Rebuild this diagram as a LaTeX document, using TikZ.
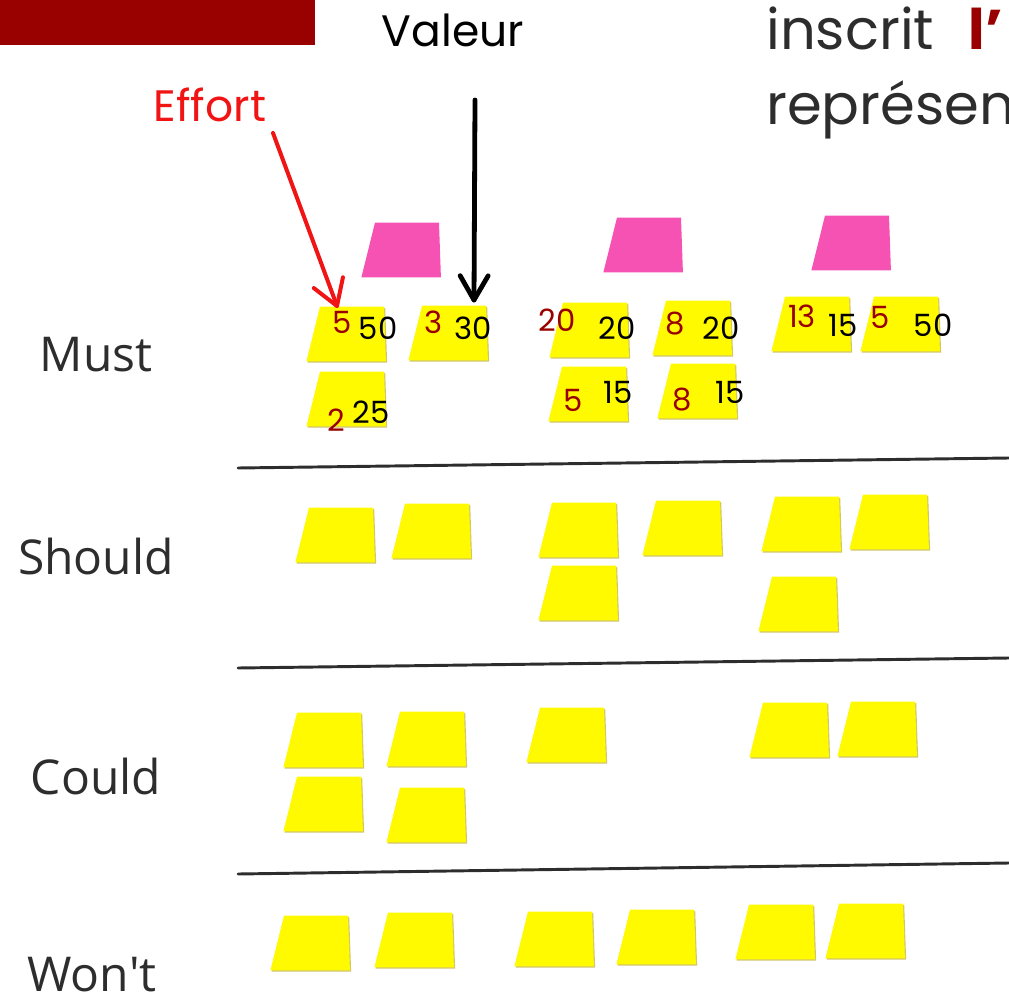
\documentclass[tikz,border=0pt]{standalone}
\usepackage{fontspec}
\setmainfont{Poppins}
\newfontfamily\rowfont{Open Sans}
\usepackage{tikz}
\usetikzlibrary{calc}
\usetikzlibrary{shapes.geometric}
\usetikzlibrary{shadows}
\usepackage{xcolor}
\definecolor{banner}{RGB}{153,0,0}
\definecolor{postit}{RGB}{255,250,0}
\definecolor{postitshade}{RGB}{190,175,40}
\definecolor{pinkit}{RGB}{245,82,180}
\definecolor{ink}{RGB}{45,45,45}
\definecolor{effred}{RGB}{240,20,20}

\tikzset{
  sheet/.style={trapezium, trapezium left angle=76, trapezium right angle=88,
    inner xsep=24pt, inner ysep=20.5pt},
  note/.style={sheet, fill=postit,
    drop shadow={shadow xshift=0.9pt, shadow yshift=-0.9pt, fill=postitshade, opacity=.7}},
  pinknote/.style={sheet, fill=pinkit},
  effnum/.style={inner sep=0pt, text=banner, font=\fontsize{23}{23}\selectfont},
  valnum/.style={inner sep=0pt, text=black, font=\fontsize{23}{23}\selectfont},
  rowlabel/.style={inner sep=0pt, text=ink, font=\rowfont\fontsize{36}{36}\selectfont},
  divider/.style={line width=2.2pt, ink},
}

\begin{document}
\begin{tikzpicture}[x=0.75pt, y=-0.75pt, line cap=round, line join=round]
  \useasboundingbox (0,0) rectangle (1009,994);
  %--- Header
    \fill[banner] (0,0) rectangle (315,45);
    \node[inner sep=0pt, font=\fontsize{33}{33}\selectfont] (valeur) at (453,30) {Valeur};
    \node[inner sep=0pt, anchor=base west, text=ink, font=\fontsize{42}{42}\selectfont] (inscrit) at (766,50) {inscrit\hspace{26pt}\textcolor{banner}{\textbf{l’}}};
    \node[inner sep=0pt, anchor=base west, text=ink, font=\fontsize{42}{42}\selectfont] (represen) at (766,125) {représen};
    \node[inner sep=0pt, text=effred, font=\fontsize{33}{33}\selectfont] (effort) at (210,105) {Effort};
  %--- Row labels
    \node[rowlabel] (must) at (96,355) {Must};
    \node[rowlabel] (should) at (96,556) {Should};
    \node[rowlabel] (could) at (96,776) {Could};
    \node[rowlabel, anchor=north] (wont) at (92,957) {Won't};
  %--- Dividers
    \draw[divider] (238,468) -- (1009,458);
    \draw[divider] (238,668) -- (1009,658);
    \draw[divider] (238,874) -- (1009,863);
  %--- Pink notes
    \node[pinknote] (p1) at (407,250) {};
    \node[pinknote] (p2) at (649,245) {};
    \node[pinknote] (p3) at (857,243) {};
  %--- Must
    \node[note] (m1) at (352,334) {};
    \node[note] (m2) at (454,333) {};
    \node[note] (m3) at (595,330) {};
    \node[note] (m4) at (698,328) {};
    \node[note] (m5) at (817,324) {};
    \node[note] (m6) at (906,324) {};
    \node[note] (m7) at (352,399) {};
    \node[note] (m8) at (594,394) {};
    \node[note] (m9) at (703,391) {};
    \node[effnum] (m1e) at (342,322) {5};   \node[valnum] (m1v) at (378,328) {50};
    \node[effnum] (m2e) at (434,322) {3};   \node[valnum] (m2v) at (473,328) {30};
    \node[effnum] (m3e) at (557,320) {20};  \node[valnum] (m3v) at (617,328) {20};
    \node[effnum] (m4e) at (675,324) {8};   \node[valnum] (m4v) at (721,328) {20};
    \node[effnum] (m5e) at (802,316) {13};  \node[valnum] (m5v) at (843,325) {15};
    \node[effnum] (m6e) at (880,317) {5};   \node[valnum] (m6v) at (933,325) {50};
    \node[effnum] (m7e) at (336,420) {2};   \node[valnum] (m7v) at (371,412) {25};
    \node[effnum] (m8e) at (573,400) {5};   \node[valnum] (m8v) at (618,392) {15};
    \node[effnum] (m9e) at (682,400) {8};   \node[valnum] (m9v) at (730,392) {15};
  %--- Should
    \node[note] (s1) at (341,535) {};
    \node[note] (s2) at (437,531) {};
    \node[note] (s3) at (584,530) {};
    \node[note] (s4) at (688,528) {};
    \node[note] (s5) at (807,524) {};
    \node[note] (s6) at (895,522) {};
    \node[note] (s7) at (584,593) {};
    \node[note] (s8) at (804,604) {};
  %--- Could
    \node[note] (c1) at (329,740) {};
    \node[note] (c2) at (432,739) {};
    \node[note] (c3) at (572,735) {};
    \node[note] (c4) at (795,730) {};
    \node[note] (c5) at (883,729) {};
    \node[note] (c6) at (329,804) {};
    \node[note] (c7) at (432,815) {};
  %--- Won't
    \node[note] (w1) at (316,943) {};
    \node[note] (w2) at (420,940) {};
    \node[note] (w3) at (560,939) {};
    \node[note] (w4) at (662,937) {};
    \node[note] (w5) at (781,932) {};
    \node[note] (w6) at (871,931) {};
  %--- Effort arrow
    \coordinate (effstart) at (273,133);
    \coordinate (efftip) at (337,306);
    \draw[line width=3pt, effred] (effstart) -- (efftip);
    \draw[line width=3pt, effred] ($(efftip)!22pt!32:(effstart)$) -- (efftip) -- ($(efftip)!22pt!-32:(effstart)$);
  %--- Valeur arrow
    \coordinate (valstart) at (475,100);
    \coordinate (valtip) at (474,300);
    \draw[line width=3.6pt] (valstart) -- (valtip);
    \draw[line width=3.6pt] ($(valtip)!21pt!30:(valstart)$) -- (valtip) -- ($(valtip)!21pt!-30:(valstart)$);
\end{tikzpicture}
\end{document}
